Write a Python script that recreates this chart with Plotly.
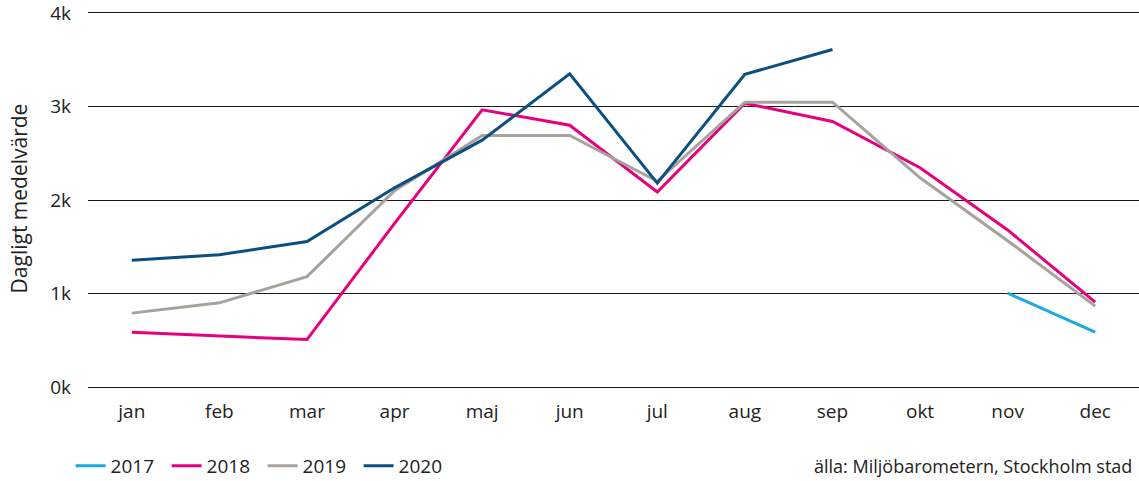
import plotly.graph_objects as go

months = ["jan", "feb", "mar", "apr", "maj", "jun", "jul", "aug", "sep", "okt", "nov", "dec"]
y2017 = [None, None, None, None, None, None, None, None, None, None, 1003, 588]
y2018 = [585, 545, 507, 1750, 2965, 2800, 2085, 3035, 2840, 2345, 1680, 907]
y2019 = [790, 900, 1180, 2100, 2690, 2690, 2200, 3046, 3046, 2237, 1565, 865]
y2020 = [1355, 1415, 1556, 2130, 2640, 3350, 2180, 3344, 3610, None, None, None]
series = [("2017", y2017, "#1aa9e0"), ("2018", y2018, "#e6007e"),
          ("2019", y2019, "#a8a29c"), ("2020", y2020, "#0b4f80")]
ytickvals = [0, 1000, 2000, 3000, 4000]
yticktext = ["0k", "1k", "2k", "3k", "4k"]

FONT = "Open Sans, Noto Sans, sans-serif"
fig = go.Figure()
for name, ys, col in series:
    fig.add_trace(go.Scatter(x=months, y=ys, name=name, mode="lines",
                             line=dict(color=col, width=3), connectgaps=False))

fig.update_layout(
    width=1139, height=481,
    margin=dict(l=88, r=0, t=8, b=94),
    paper_bgcolor="white", plot_bgcolor="white",
    font=dict(family=FONT, size=19, color="#222222"),
    showlegend=True,
    legend=dict(orientation="h", xref="container", yref="container",
                x=0.062, y=1 - 466 / 481, xanchor="left", yanchor="middle",
                font=dict(size=19, color="#222222"),
                entrywidth=51, entrywidthmode="pixels", itemwidth=30),
    xaxis=dict(type="category", range=[-0.5, 11.5], showgrid=False,
               showline=False, ticks="", tickfont=dict(size=19),
               ticklabelstandoff=11),
    yaxis=dict(range=[0, 4032], tickvals=ytickvals, ticktext=yticktext,
               showgrid=True, gridcolor="#1a1a1a", gridwidth=1,
               zeroline=True, zerolinecolor="#1a1a1a", zerolinewidth=1,
               ticks="", ticklabelstandoff=16, tickfont=dict(size=19),
               ticklabeloverflow="allow",
               title=dict(text="Dagligt medelvärde", font=dict(size=21), standoff=16)),
    annotations=[dict(text="älla: Miljöbarometern, Stockholm stad", xref="paper", yref="paper",
                      x=1, y=0, xanchor="right", yanchor="middle",
                      xshift=-5, yshift=-79, showarrow=False,
                      font=dict(size=18, color="#222222"))],
)
fig.write_html("out.html", config={"displayModeBar": False},
               post_script="document.body.style.margin='0';document.body.style.overflow='hidden';")
